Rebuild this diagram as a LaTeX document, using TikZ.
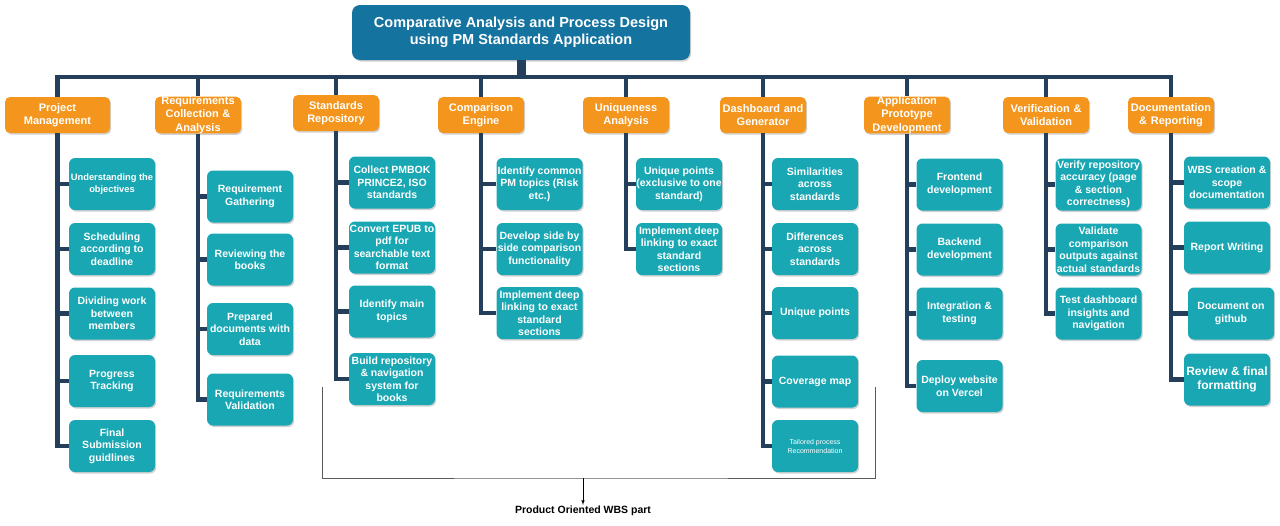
\documentclass[tikz,border=0pt]{standalone}
\usepackage{fontspec}
\setmainfont{Liberation Sans}
\usetikzlibrary{shadows}
\definecolor{rootblue}{HTML}{15739F}
\definecolor{headorange}{HTML}{F4961E}
\definecolor{taskteal}{HTML}{19A7B3}
\definecolor{linenavy}{HTML}{233F5C}
\definecolor{bracegray}{HTML}{5A5A5A}
\tikzset{
  softshadow/.style={drop shadow={shadow xshift=1.2pt,shadow yshift=-1.5pt,fill=black,opacity=.18}},
  rootbox/.style={fill=rootblue,rounded corners=8pt,minimum width=338pt,minimum height=55pt,
    text=white,align=center,font=\bfseries\fontsize{14.5}{17.5}\selectfont,softshadow},
  headbox/.style={fill=headorange,rounded corners=5pt,minimum width=86pt,minimum height=36pt,
    text width=86pt,inner sep=0pt,text=white,align=center,font=\bfseries\fontsize{11}{13.2}\selectfont,softshadow},
  taskbox/.style={fill=taskteal,rounded corners=6pt,minimum width=86pt,minimum height=52pt,
    inner xsep=0pt,inner ysep=2pt,text=white,align=center,font=\bfseries\fontsize{10.5}{12.5}\selectfont,softshadow},
  wire/.style={draw=linenavy,line width=4.5pt},
}
\begin{document}
\begin{tikzpicture}[x=1pt,y=-1pt,>=latex]
    \useasboundingbox (0,0) rectangle (1280,525);
    \node[rootbox] (root) at (521,32.5) {Comparative Analysis and Process Design\\using PM Standards Application};
    % level 1
    \node[headbox,minimum width=105pt,text width=105pt] (pm) at (57.5,115) {Project\\Management};
    \node[headbox] (req) at (198,115) {Requirements\\Collection \&\\Analysis};
    \node[headbox] (std) at (336,113) {Standards\\Repository};
    \node[headbox] (cmp) at (481,115) {Comparison\\Engine};
    \node[headbox] (unq) at (626,115) {Uniqueness\\Analysis};
    \node[headbox] (dash) at (763,115) {Dashboard and\\Generator};
    \node[headbox] (app) at (907,115) {Application\\Prototype\\Development};
    \node[headbox] (ver) at (1046,115) {Verification \&\\Validation};
    \node[headbox] (doc) at (1171,115) {Documentation\\\& Reporting};
    \coordinate (bus) at (521,77);
    \draw[wire,line width=9pt] (root.south) -- (bus);
    \draw[wire,line cap=rect] (pm.north |- bus) -- (doc.north |- bus);
    \foreach \h in {pm,req,std,cmp,unq,dash,app,ver,doc}
    {
        \draw[wire] (\h.north |- bus) -- (\h.north);
    }
    % level 2
    \node[taskbox,font=\bfseries\fontsize{9.3}{11.5}\selectfont] (pm1) at (112,184) {Understanding the\\objectives};
    \draw[wire] (pm.south) |- (pm1.west);
    \foreach \i/\y/\txt in {2/249/{Scheduling\\according to\\deadline},3/313.5/{Dividing work\\between\\members},
        4/381/{Progress\\Tracking},5/446/{Final\\Submission\\guidlines}}
    {
        \node[taskbox] (pm\i) at (112,\y) {\txt};
        \draw[wire] (pm.south) |- (pm\i.west);
    }
    \foreach \i/\y/\txt in {1/196.5/{Requirement\\Gathering},2/259.5/{Reviewing the\\books},
        3/329/{Prepared\\documents with\\data},4/399.5/{Requirements\\Validation}}
    {
        \node[taskbox] (req\i) at (250,\y) {\txt};
        \draw[wire] (req.south) |- (req\i.west);
    }
    \foreach \i/\y/\txt in {1/182.5/{Collect PMBOK\\PRINCE2, ISO\\standards},
        2/247.5/{Convert EPUB to\\pdf for\\searchable text\\format},3/311.5/{Identify main\\topics},
        4/379/{Build repository\\\& navigation\\system for\\books}}
    {
        \node[taskbox] (std\i) at (392,\y) {\txt};
        \draw[wire] (std.south) |- (std\i.west);
    }
    \foreach \i/\y/\txt in {1/184/{Identify common\\PM topics (Risk\\etc.)},
        2/249/{Develop side by\\side comparison\\functionality},
        3/313/{Implement deep\\linking to exact\\standard\\sections}}
    {
        \node[taskbox] (cmp\i) at (539.5,\y) {\txt};
        \draw[wire] (cmp.south) |- (cmp\i.west);
    }
    \foreach \i/\y/\txt in {1/184/{Unique points\\(exclusive to one\\standard)},
        2/249/{Implement deep\\linking to exact\\standard\\sections}}
    {
        \node[taskbox] (unq\i) at (679,\y) {\txt};
        \draw[wire] (unq.south) |- (unq\i.west);
    }
    \foreach \i/\y/\txt in {1/184/{Similarities\\across\\standards},2/249/{Differences\\across\\standards},
        3/313/{Unique points},4/381.5/{Coverage map}}
    {
        \node[taskbox] (dash\i) at (815,\y) {\txt};
        \draw[wire] (dash.south) |- (dash\i.west);
    }
    \node[taskbox,font=\fontsize{7}{9}\selectfont] (dash5) at (815,446) {Tailored process\\Recommendation};
    \draw[wire] (dash.south) |- (dash5.west);
    \foreach \i/\y/\txt in {1/184.5/{Frontend\\development},2/249.5/{Backend\\development},
        3/313.5/{Integration \&\\testing},4/386/{Deploy website\\on Vercel}}
    {
        \node[taskbox] (app\i) at (959.5,\y) {\txt};
        \draw[wire] (app.south) |- (app\i.west);
    }
    \foreach \i/\y/\txt in {1/184.5/{Verify repository\\accuracy (page\\\& section\\correctness)},
        2/249.5/{Validate\\comparison\\outputs against\\actual standards},
        3/313.5/{Test dashboard\\insights and\\navigation}}
    {
        \node[taskbox] (ver\i) at (1098.5,\y) {\txt};
        \draw[wire] (ver.south) |- (ver\i.west);
    }
    \foreach \i/\x/\y/\txt in {1/1227/182.5/{WBS creation \&\\scope\\documentation},
        2/1227/247.5/{Report Writing},3/1231/313.5/{Document on\\github}}
    {
        \node[taskbox] (doc\i) at (\x,\y) {\txt};
        \draw[wire] (doc.south) |- (doc\i.west);
    }
    \node[taskbox,font=\bfseries\fontsize{12}{14.5}\selectfont] (doc4) at (1227,379.5) {Review \& final\\formatting};
    \draw[wire] (doc.south) |- (doc4.west);
    % product oriented part
    \coordinate (braceL) at (322,387);
    \coordinate (braceR) at (875,387);
    \coordinate (braceM) at (583,478);
    \draw[bracegray,line width=.8pt] (braceL) |- (braceM) -| (braceR);
    \node[inner sep=1pt,font=\bfseries\fontsize{10.5}{12}\selectfont] (wbspart) at (583,511) {Product Oriented WBS part};
    \draw[->,line width=.6pt] (braceM) -- (wbspart.north);
\end{tikzpicture}
\end{document}
